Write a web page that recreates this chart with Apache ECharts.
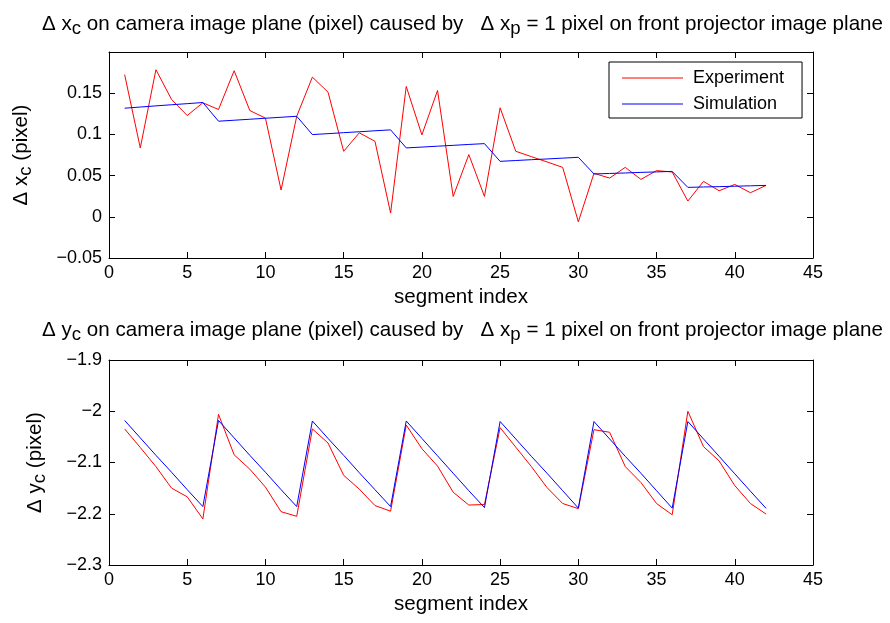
<!DOCTYPE html>
<html>
<head>
<meta charset="utf-8">
<script src="https://cdn.jsdelivr.net/npm/echarts@6/dist/echarts.min.js"></script>
<style>
  html, body { margin: 0; padding: 0; background: #fff; }
  #chart { width: 890px; height: 623px; }
</style>
</head>
<body>
<div id="chart"></div>
<script>
// Segment indices along the horizontal axes
const segmentIndex = [1, 2, 3, 4, 5, 6, 7, 8, 9, 10, 11, 12, 13, 14, 15, 16, 17, 18, 19, 20, 21,
  22, 23, 24, 25, 26, 27, 28, 29, 30, 31, 32, 33, 34, 35, 36, 37, 38, 39, 40, 41, 42];

// Δx_c per segment (pixel)
const xcExperiment = [0.1725, 0.0836, 0.1785, 0.1424, 0.1229, 0.1384, 0.1302, 0.1773, 0.1290, 0.1197,
  0.0325, 0.1220, 0.1695, 0.1513, 0.0795, 0.1019, 0.0917, 0.0045, 0.1582, 0.0994, 0.1533,
  0.0247, 0.0755, 0.0247, 0.1323, 0.0795, 0.0730, 0.0666, 0.0600, -0.0061, 0.0527, 0.0470,
  0.0600, 0.0454, 0.0560, 0.0544, 0.0191, 0.0430, 0.0316, 0.0393, 0.0292, 0.0381];
const xcSimulation = [0.1318, 0.1332, 0.1346, 0.1360, 0.1373, 0.1387,
  0.1160, 0.1172, 0.1184, 0.1196, 0.1208, 0.1220,
  0.0998, 0.1009, 0.1021, 0.1032, 0.1044, 0.1055,
  0.0836, 0.0846, 0.0857, 0.0867, 0.0878, 0.0888,
  0.0673, 0.0683, 0.0693, 0.0702, 0.0712, 0.0722,
  0.0520, 0.0526, 0.0532, 0.0539, 0.0545, 0.0551,
  0.0357, 0.0362, 0.0366, 0.0371, 0.0376, 0.0381];

// Δy_c per segment (pixel)
const ycExperiment = [-2.0345, -2.0708, -2.108, -2.150, -2.167, -2.210,
  -2.006, -2.085, -2.113, -2.148, -2.196, -2.205,
  -2.0345, -2.062, -2.125, -2.152, -2.184, -2.195,
  -2.027, -2.073, -2.107, -2.158, -2.183, -2.182,
  -2.032, -2.070, -2.108, -2.149, -2.180, -2.190,
  -2.036, -2.041, -2.108, -2.139, -2.180, -2.202,
  -2.000, -2.069, -2.097, -2.145, -2.180, -2.2006];
const ycSimulation = [-2.018, -2.052, -2.086, -2.119, -2.153, -2.186,
  -2.018, -2.052, -2.086, -2.119, -2.153, -2.186,
  -2.019, -2.053, -2.086, -2.120, -2.153, -2.186,
  -2.019, -2.053, -2.087, -2.121, -2.155, -2.188,
  -2.020, -2.054, -2.088, -2.121, -2.155, -2.189,
  -2.020, -2.054, -2.088, -2.121, -2.155, -2.189,
  -2.020, -2.054, -2.088, -2.122, -2.156, -2.1895];

const seriesNames = ['Experiment', 'Simulation'];
const xTicks = { min: 0, max: 45, interval: 5 };
const xcTicks = { min: -0.05, max: 0.2, interval: 0.05 };
const ycTicks = { min: -2.3, max: -1.9, interval: 0.1 };

const FONT = '"Liberation Sans", Arial, Helvetica, sans-serif';
const LABEL_SIZE = 20.6;
const pairs = (xs, ys) => xs.map((x, i) => [x, ys[i]]);
const minusSign = v => String(+v.toFixed(4)).replace('-', '\u2212');

// Rich-text styles: normal run plus a lowered subscript run.
// The subscript has a shorter line box aligned to the bottom of the line,
// so its centre sits (28 - 14) / 2 = 7px below the normal text.
function richSub(size) {
  return {
    n: { fontFamily: FONT, fontSize: size, fontWeight: 'normal', color: '#000', lineHeight: 28, verticalAlign: 'middle' },
    s: { fontFamily: FONT, fontSize: size - 2, fontWeight: 'normal', color: '#000', lineHeight: 14, verticalAlign: 'bottom' }
  };
}

function xAxisPair(gridIndex) {
  return [{
    type: 'value', gridIndex, position: 'bottom', ...xTicks,
    axisLine: { show: true, onZero: false, lineStyle: { color: '#000', width: 1 } },
    axisTick: { show: true, inside: true, length: 6, lineStyle: { color: '#000' } },
    axisLabel: { color: '#000', fontFamily: FONT, fontSize: 18, margin: 6 },
    splitLine: { show: false },
    name: 'segment index', nameLocation: 'middle', nameGap: 29,
    nameTextStyle: { color: '#000', fontFamily: FONT, fontSize: LABEL_SIZE }
  }, {
    type: 'value', gridIndex, position: 'top', ...xTicks,
    axisLine: { show: true, onZero: false, lineStyle: { color: '#000', width: 1 } },
    axisTick: { show: true, inside: true, length: 6, lineStyle: { color: '#000' } },
    axisLabel: { show: false }, splitLine: { show: false }
  }];
}

function yAxisPair(gridIndex, ticks, nameText, nameGap, hideMax) {
  return [{
    type: 'value', gridIndex, position: 'left', ...ticks,
    axisLine: { show: true, onZero: false, lineStyle: { color: '#000', width: 1 } },
    axisTick: { show: true, inside: true, length: 6, lineStyle: { color: '#000' } },
    axisLabel: { color: '#000', fontFamily: FONT, fontSize: 18, margin: 7, formatter: minusSign,
      showMaxLabel: !hideMax },
    splitLine: { show: false },
    name: nameText, nameLocation: 'middle', nameGap, nameRotate: 90,
    nameTextStyle: { rich: richSub(LABEL_SIZE) }
  }, {
    type: 'value', gridIndex, position: 'right', ...ticks,
    axisLine: { show: true, onZero: false, lineStyle: { color: '#000', width: 1 } },
    axisTick: { show: true, inside: true, length: 6, lineStyle: { color: '#000' } },
    axisLabel: { show: false }, splitLine: { show: false }
  }];
}

function lineSeries(name, color, xi, yi, data) {
  return {
    type: 'line', name, xAxisIndex: xi, yAxisIndex: yi, data,
    showSymbol: false, symbol: 'none', smooth: false,
    lineStyle: { color, width: 1 }, itemStyle: { color }
  };
}

const chart = echarts.init(document.getElementById('chart'), null, { renderer: 'canvas' });
chart.setOption({
  animation: false,
  backgroundColor: '#fff',
  title: [{
    left: 37, top: 5,
    text: '{n|\u0394 x}{s|c}{n| on camera image plane (pixel) caused by   \u0394 x}{s|p}{n| = 1 pixel on front projector image plane}',
    textStyle: { rich: richSub(LABEL_SIZE) }
  }, {
    left: 37, top: 311,
    text: '{n|\u0394 y}{s|c}{n| on camera image plane (pixel) caused by   \u0394 x}{s|p}{n| = 1 pixel on front projector image plane}',
    textStyle: { rich: richSub(LABEL_SIZE) }
  }],
  legend: {
    left: 609, top: 62, orient: 'vertical',
    data: seriesNames,
    icon: 'rect', itemWidth: 61, itemHeight: 1, itemGap: 6,
    padding: [6, 18, 4, 13],
    borderColor: '#000', borderWidth: 1, backgroundColor: '#fff',
    textStyle: { color: '#000', fontFamily: FONT, fontSize: 18, lineHeight: 20, padding: [0, 0, 0, 5] }
  },
  grid: [
    { left: 109, right: 77, top: 52, height: 206, outerBoundsMode: 'none' },
    { left: 109, right: 77, top: 360, height: 205, outerBoundsMode: 'none' }
  ],
  xAxis: [...xAxisPair(0), ...xAxisPair(1)],
  yAxis: [
    ...yAxisPair(0, xcTicks, '{n|\u0394 x}{s|c}{n| (pixel)}', 74, true),
    ...yAxisPair(1, ycTicks, '{n|\u0394 y}{s|c}{n| (pixel)}', 60, false)
  ],
  series: [
    lineSeries(seriesNames[0], '#ff0000', 0, 0, pairs(segmentIndex, xcExperiment)),
    lineSeries(seriesNames[1], '#0000ff', 0, 0, pairs(segmentIndex, xcSimulation)),
    lineSeries(seriesNames[0], '#ff0000', 2, 2, pairs(segmentIndex, ycExperiment)),
    lineSeries(seriesNames[1], '#0000ff', 2, 2, pairs(segmentIndex, ycSimulation))
  ]
});
</script>
</body>
</html>
